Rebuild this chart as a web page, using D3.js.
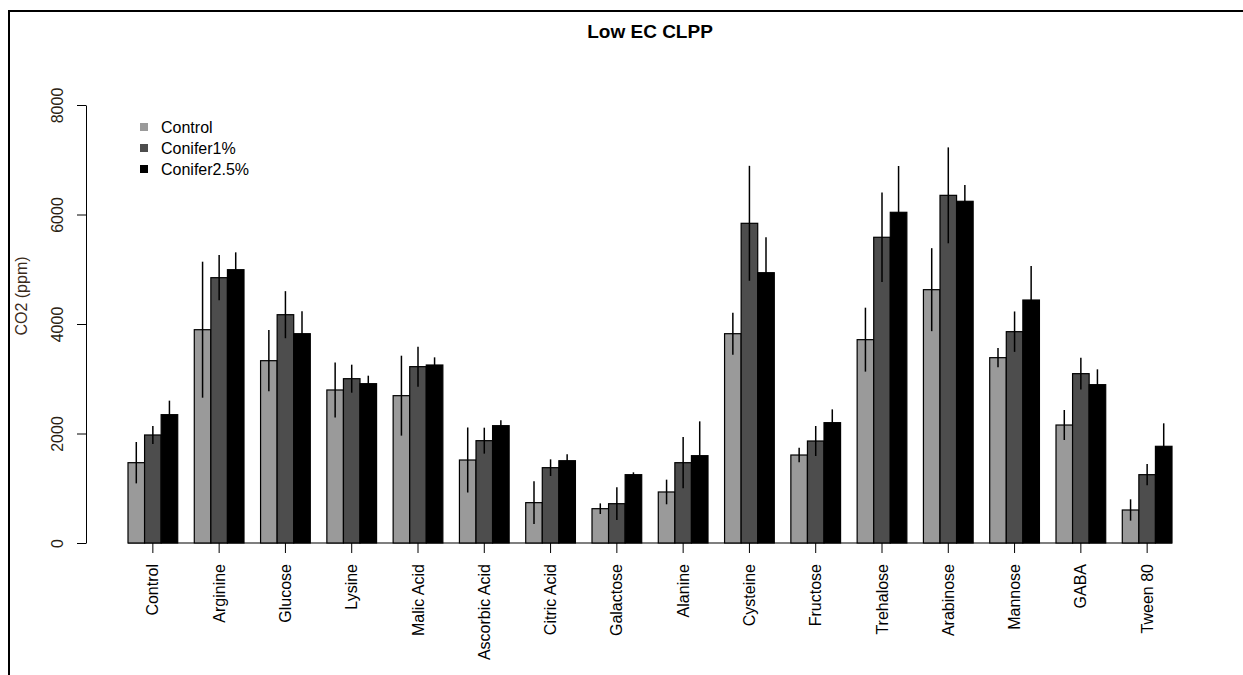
<!DOCTYPE html>
<html>
<head>
<meta charset="utf-8">
<script src="https://cdn.jsdelivr.net/npm/d3@7"></script>
<style>
  html, body { margin: 0; padding: 0; background: #fff; }
  svg { display: block; font-family: "Liberation Sans", Arial, sans-serif; }
</style>
</head>
<body>
<svg id="chart" width="1243" height="675"></svg>
<script>
const categories = ["Control","Arginine","Glucose","Lysine","Malic Acid","Ascorbic Acid","Citric Acid","Galactose","Alanine","Cysteine","Fructose","Trehalose","Arabinose","Mannose","GABA","Tween 80"];
const seriesNames = ["Control","Conifer1%","Conifer2.5%"];
const controlVals   = [1467, 3896, 3330, 2795, 2691, 1516, 737, 627, 932, 3823, 1607, 3714, 4627, 3385, 2155, 603];
const controlErr    = [378, 1242, 560, 502, 730, 594, 390, 97, 225, 383, 133, 584, 758, 177, 274, 195];
const conifer1Vals  = [1973, 4846, 4170, 3001, 3221, 1869, 1376, 718, 1467, 5839, 1863, 5584, 6350, 3860, 3093, 1248];
const conifer1Err   = [165, 414, 430, 256, 365, 237, 152, 298, 469, 1050, 274, 816, 876, 369, 289, 195];
const conifer25Vals = [2344, 4992, 3823, 2910, 3251, 2143, 1503, 1248, 1595, 4937, 2198, 6040, 6241, 4438, 2892, 1766];
const conifer25Err  = [256, 317, 408, 146, 140, 97, 117, 43, 627, 647, 243, 846, 298, 621, 280, 420];
const yTicks = [0, 2000, 4000, 6000, 8000];
const colors = ["#9a9a9a", "#4d4d4d", "#000000"];

const valuesBySeries = [controlVals, conifer1Vals, conifer25Vals];
const errBySeries = [controlErr, conifer1Err, conifer25Err];

const svg = d3.select("#chart");
const FS = 16;

// outer frame
svg.append("rect").attr("x", 9).attr("y", 11).attr("width", 1260).attr("height", 700)
  .attr("fill", "none").attr("stroke", "#000").attr("stroke-width", 2);

const y = d3.scaleLinear().domain([0, 8000]).range([543, 105]);
const xGroup = d3.scaleBand().domain(categories).range([128, 1172]).paddingInner(0.25).paddingOuter(0);
const xSeries = d3.scaleBand().domain(seriesNames).range([0, xGroup.bandwidth()]);

// title
svg.append("text").attr("x", 650).attr("y", 38).attr("text-anchor", "middle")
  .attr("font-size", 19).attr("font-weight", "bold").text("Low EC CLPP");

// y label
svg.append("text").attr("transform", "translate(27,296) rotate(-90)")
  .attr("text-anchor", "middle").attr("font-size", FS).attr("fill", "#3a2a1a").text("CO2 (ppm)");

// y axis
const yAxis = svg.append("g").attr("transform", "translate(86,0)")
  .call(d3.axisLeft(y).tickValues(yTicks).tickFormat(d3.format("d")).tickSize(9).tickSizeOuter(0));
yAxis.select(".domain").attr("stroke", "#000");
yAxis.selectAll(".tick line").attr("stroke", "#000");
yAxis.selectAll(".tick text")
  .attr("x", null).attr("dy", null).attr("y", null)
  .attr("transform", "translate(-23,0) rotate(-90)")
  .attr("text-anchor", "middle").attr("font-size", FS).attr("font-family", null).attr("fill", "#2a1f14");

// bars
const rows = [];
categories.forEach((c, i) => {
  seriesNames.forEach((s, j) => {
    rows.push({cat: c, series: s, j: j, v: valuesBySeries[j][i], e: errBySeries[j][i]});
  });
});

// baseline
svg.append("line").attr("x1", xGroup.range()[0]).attr("x2", xGroup.range()[1])
  .attr("y1", y(0)).attr("y2", y(0)).attr("stroke", "#555").attr("stroke-width", 1.5);

svg.append("g").selectAll("rect").data(rows).join("rect")
  .attr("x", d => xGroup(d.cat) + xSeries(d.series))
  .attr("y", d => y(d.v))
  .attr("width", xSeries.bandwidth())
  .attr("height", d => y(0) - y(d.v))
  .attr("fill", d => colors[d.j])
  .attr("stroke", "#000").attr("stroke-width", 1.2);

// error bars
svg.append("g").selectAll("line").data(rows).join("line")
  .attr("x1", d => xGroup(d.cat) + xSeries(d.series) + xSeries.bandwidth() / 2)
  .attr("x2", d => xGroup(d.cat) + xSeries(d.series) + xSeries.bandwidth() / 2)
  .attr("y1", d => y(d.v + d.e))
  .attr("y2", d => y(Math.max(0, d.v - d.e)))
  .attr("stroke", "#000").attr("stroke-width", 1.5);

// x axis
const xAxis = svg.append("g").attr("transform", `translate(0,${y(0)})`)
  .call(d3.axisBottom(xGroup).tickSize(10).tickSizeOuter(0));
xAxis.select(".domain").remove();
xAxis.selectAll(".tick line").attr("stroke", "#000");
xAxis.selectAll(".tick text")
  .attr("y", null).attr("dy", null)
  .attr("transform", "translate(0,21) rotate(-90)")
  .attr("dy", "0.35em")
  .attr("text-anchor", "end").attr("font-size", FS).attr("font-family", null).attr("fill", "#000");

// legend
const legend = svg.append("g");
seriesNames.forEach((s, j) => {
  legend.append("rect").attr("x", 140).attr("y", 123 + j * 21).attr("width", 8).attr("height", 8)
    .attr("fill", colors[j]);
  legend.append("text").attr("x", 161).attr("y", 133 + j * 21).attr("font-size", FS).text(s);
});
</script>
</body>
</html>
